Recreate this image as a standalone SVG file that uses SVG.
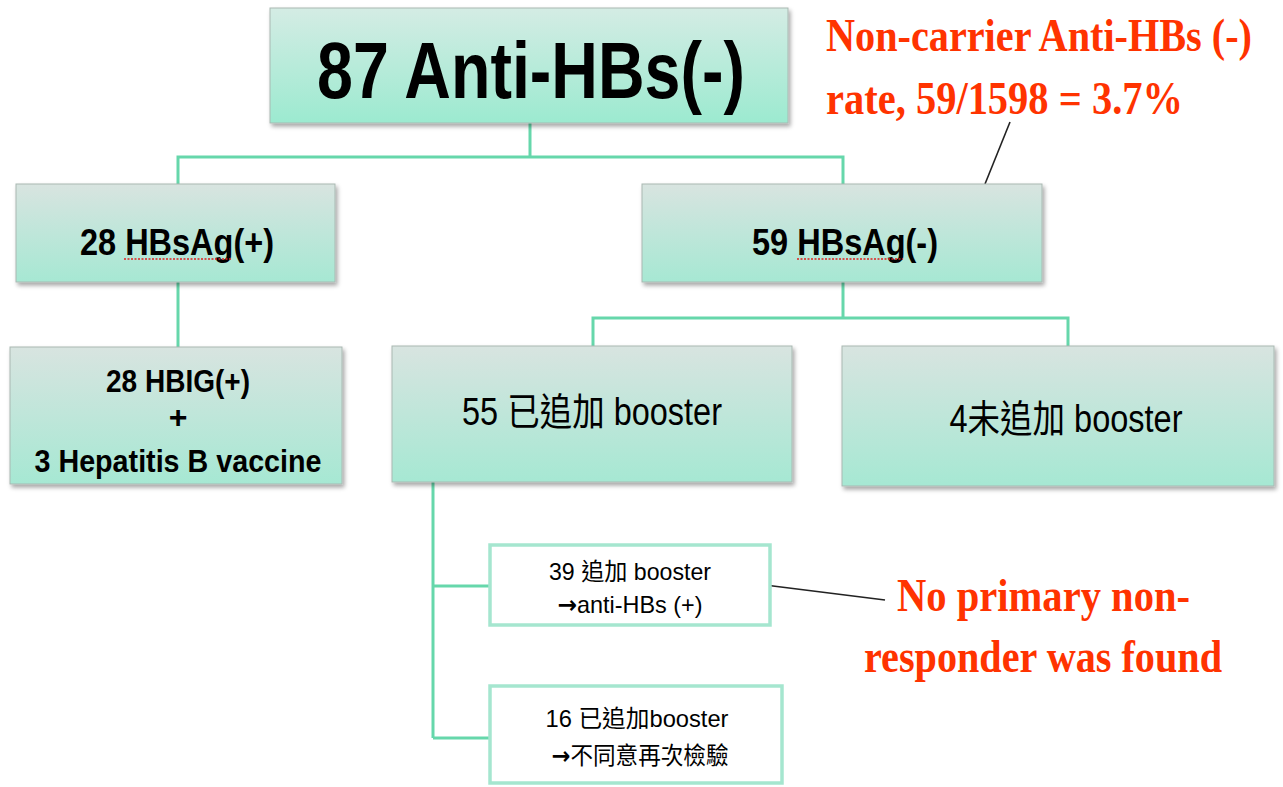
<svg xmlns="http://www.w3.org/2000/svg" width="1283" height="787" viewBox="0 0 1283 787">
<defs>
<linearGradient id="g1" x1="0" y1="0" x2="0" y2="1">
<stop offset="0" stop-color="#d8e4e0"/>
<stop offset="1" stop-color="#a6e8d3"/>
</linearGradient>
<linearGradient id="g2" x1="0" y1="0" x2="0" y2="1">
<stop offset="0" stop-color="#d4ece4"/>
<stop offset="1" stop-color="#9cead0"/>
</linearGradient>
<filter id="sh" x="-5%" y="-5%" width="112%" height="120%">
<feDropShadow dx="2" dy="3" stdDeviation="2" flood-color="#000" flood-opacity="0.35"/>
</filter>
</defs>
<style>
.box{fill:url(#g1);stroke:#a9b8b2;stroke-width:1;filter:url(#sh)}
.wbox{fill:#ffffff;stroke:#a5e6cf;stroke-width:3.5}
.con{fill:none;stroke:#66d7ab;stroke-width:3}
.call{fill:none;stroke:#222;stroke-width:1.6}
.t{font-family:"Liberation Sans","Noto Sans CJK TC",sans-serif;fill:#000;text-anchor:middle}
.b{font-weight:bold}
.ar{font-family:"DejaVu Sans",sans-serif;font-weight:bold}
.red{font-family:"Liberation Serif","Noto Sans CJK TC",serif;font-weight:bold;fill:#ff3300}
.sq{fill:none;stroke:#e02020;stroke-width:1.5;stroke-dasharray:2 1.5}
</style>
<rect width="1283" height="787" fill="#ffffff"/>
<g id="connectors">
<path class="con" d="M530 123 V157 M178 185 V157 H843 V185"/>
<path class="con" d="M178 282 V348"/>
<path class="con" d="M843 282 V318 M593 346 V318 H1068 V346"/>
<path class="con" d="M433 482 V738 M433 586 H490 M433 738 H490"/>
<path class="call" d="M985 184 L1010 122"/>
<path class="call" d="M765 585 L885 600"/>
</g>
<g id="n-top">
<rect class="box" x="270" y="8" width="518" height="115" style="fill:url(#g2)"/>
<text class="t b" x="531" y="98" font-size="80" textLength="428" lengthAdjust="spacingAndGlyphs">87 Anti-HBs(-)</text>
</g>
<g id="n-hbsag-pos">
<rect class="box" x="16" y="184" width="319" height="98"/>
<text class="t b" x="177" y="255" font-size="36" textLength="194" lengthAdjust="spacingAndGlyphs">28 HBsAg(+)</text>
<path class="sq" d="M124 259 H232"/>
</g>
<g id="n-hbsag-neg">
<rect class="box" x="642" y="184" width="400" height="98"/>
<text class="t b" x="845" y="255" font-size="36" textLength="186" lengthAdjust="spacingAndGlyphs">59 HBsAg(-)</text>
<path class="sq" d="M797 259 H903"/>
</g>
<g id="n-hbig">
<rect class="box" x="10" y="347" width="332" height="137"/>
<text class="t b" x="178" y="392" font-size="32" textLength="144" lengthAdjust="spacingAndGlyphs">28 HBIG(+)</text>
<text class="t b" x="178" y="428" font-size="32">+</text>
<text class="t b" x="178" y="472" font-size="32" textLength="287" lengthAdjust="spacingAndGlyphs">3 Hepatitis B vaccine</text>
</g>
<g id="n-55">
<rect class="box" x="392" y="346" width="400" height="136"/>
<text class="t" x="592" y="425" font-size="38" textLength="260" lengthAdjust="spacingAndGlyphs">55 已追加 booster</text>
</g>
<g id="n-4">
<rect class="box" x="842" y="346" width="432" height="140"/>
<text class="t" x="1066" y="432" font-size="38" textLength="233" lengthAdjust="spacingAndGlyphs">4未追加 booster</text>
</g>
<g id="n-39">
<rect class="wbox" x="490" y="545" width="280" height="80"/>
<text class="t" x="630" y="580" font-size="24" textLength="162" lengthAdjust="spacingAndGlyphs">39 追加 booster</text>
<text class="t" x="630" y="613" font-size="24" textLength="145" lengthAdjust="spacingAndGlyphs"><tspan class="ar">→</tspan>anti-HBs (+)</text>
</g>
<g id="n-16">
<rect class="wbox" x="490" y="686" width="292" height="97"/>
<text class="t" x="637" y="727" font-size="24" textLength="183" lengthAdjust="spacingAndGlyphs">16 已追加booster</text>
<text class="t" x="640" y="764" font-size="24" textLength="177" lengthAdjust="spacingAndGlyphs"><tspan class="ar">→</tspan>不同意再次檢驗</text>
</g>
<g id="note-rate">
<text class="red" transform="translate(826 51) scale(1 1.22)" x="0" y="0" font-size="38" textLength="426" lengthAdjust="spacingAndGlyphs">Non-carrier Anti-HBs  (-)</text>
<text class="red" transform="translate(826 114) scale(1 1.22)" x="0" y="0" font-size="38" textLength="357" lengthAdjust="spacingAndGlyphs">rate, 59/1598 = 3.7%</text>
</g>
<g id="note-responder">
<text class="red" transform="translate(897 611) scale(1 1.22)" x="0" y="0" font-size="38" textLength="293" lengthAdjust="spacingAndGlyphs">No primary non-</text>
<text class="red" transform="translate(864 672) scale(1 1.22)" x="0" y="0" font-size="38" textLength="358" lengthAdjust="spacingAndGlyphs">responder was found</text>
</g>
</svg>
